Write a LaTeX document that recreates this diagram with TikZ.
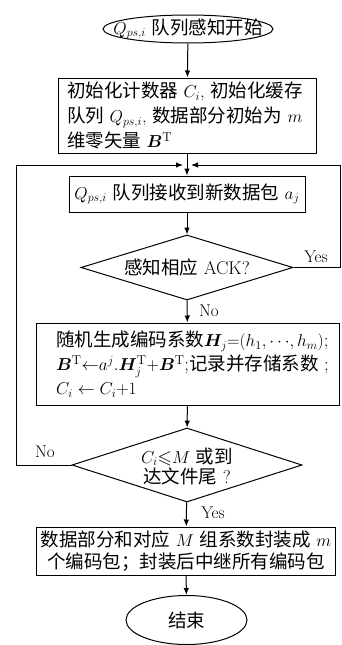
\documentclass[tikz,border=0pt]{standalone}
\usepackage{amsmath,amssymb,bm}
\usepackage{fontspec}
\newfontfamily\cjk{Noto Sans CJK SC}
\usetikzlibrary{shapes.geometric,arrows.meta}
\tikzset{
  base/.style={draw, line width=1pt, inner sep=0pt},
  txt/.style={inner sep=0pt, font=\fontsize{18.5}{25}\selectfont},
  boxshape/.style={base, rectangle},
  ovalshape/.style={base, ellipse},
  decshape/.style={base, diamond},
  conn/.style={line width=1pt, -{Latex[length=7pt,width=5.5pt]}},
  plain/.style={line width=1pt},
  lbl/.style={inner sep=0pt, font=\fontsize{17}{18}\selectfont}
}
\begin{document}
\begin{tikzpicture}[x=1pt,y=-1pt]
\useasboundingbox (0,0) rectangle (341,645);
% shapes
\node[ovalshape, minimum width=170pt, minimum height=28pt] (start) at (188,29) {};
\node[txt] (startt) at (start.center) {$Q_{ps,i}$ {\cjk 队列感知开始}};

\node[boxshape, minimum width=258pt, minimum height=75pt] (box1) at (187,115.5) {};
\node[txt, align=left] (box1t) at ([xshift=-2pt]box1.center) {%
{\cjk 初始化计数器} $C_i$, {\cjk 初始化缓存}\\
{\cjk 队列} $Q_{ps,i}$, {\cjk 数据部分初始为} $m$\\
{\cjk 维零矢量} $\bm{B}^{\mathrm{T}}$};

\coordinate (j) at (187,165);
\coordinate (jl) at (183,165);
\coordinate (jr) at (191,165);
\coordinate (lt) at (16,165);
\coordinate (rt) at (340.5,165);

\node[boxshape, minimum width=236pt, minimum height=36pt] (box2) at (187,194) {};
\node[txt] (box2t) at (box2.center) {$Q_{ps,i}$ {\cjk 队列接收到新数据包} $a_j$};

\node[decshape, minimum width=212pt, minimum height=65pt] (d1) at (187,267.5) {};
\node[txt] (d1t) at (d1.center) {{\cjk 感知相应} ACK?};

\node[boxshape, minimum width=303pt, minimum height=82pt] (box3) at (187.5,364) {};
\node[txt, align=left, font=\fontsize{18.5}{24}\selectfont] (box3t) at ([xshift=5pt]box3.center) {%
{\cjk 随机生成编码系数}$\bm{H}_j{=}(h_1,{\cdots},h_m)$;\\
$\bm{B}^{\mathrm T}{\leftarrow}a^j.\bm{H}_j^{\mathrm T}{+}\bm{B}^{\mathrm T}$;{\cjk 记录并存储系数} ;\\
$C_i\leftarrow C_i{+}1$};

\node[decshape, minimum width=230pt, minimum height=74pt] (d2) at (187,465) {};
\node[txt, align=center, font=\fontsize{18.5}{20}\selectfont] (d2t) at ([yshift=-1pt]d2.center) {%
$C_i{\leqslant}M$ {\cjk 或到}\\{\cjk 达文件尾} ?};

\node[boxshape, minimum width=299pt, minimum height=48pt] (box4) at (186,551) {};
\node[txt, align=center, font=\fontsize{18.5}{22}\selectfont] (box4t) at (box4.center) {%
{\cjk 数据部分和对应} $M$ {\cjk 组系数封装成} $m$\\
{\cjk 个编码包；封装后中继所有编码包}};

\node[ovalshape, minimum width=121pt, minimum height=49pt] (end) at (186.5,620) {};
\node[txt] (endt) at (end.center) {{\cjk 结束}};

% connectors
\draw[conn] (start) -- (box1);
\draw[conn] (box1) -- (box2);
\draw[conn] (box2) -- (d1);
\draw[conn] (d1) -- (box3);
\draw[conn] (box3) -- (d2);
\draw[conn] (d2) -- (box4);
\draw[conn] (box4) -- (end);
\draw[plain] (d1.east) -| (rt);
\draw[conn] (rt) -- (jr);
\draw[plain] (d2.west) -| (lt);
\draw[conn] (lt) -- (jl);

% labels
\node[lbl] (yes1) at (316,257) {Yes};
\node[lbl] (no1) at (209,311) {No};
\node[lbl] (no2) at (45,452) {No};
\node[lbl] (yes2) at (213,513) {Yes};
\end{tikzpicture}
\end{document}
